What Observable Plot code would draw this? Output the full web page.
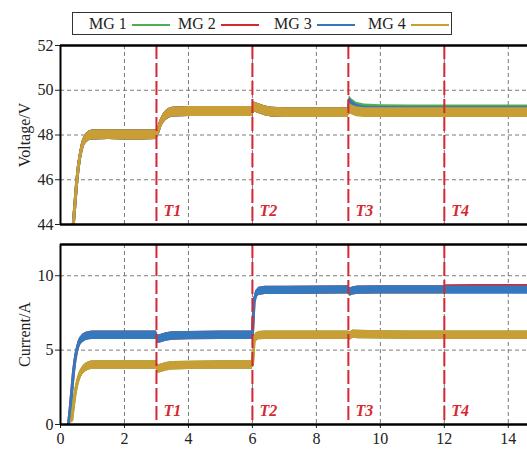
<!DOCTYPE html>
<html>
<head>
<meta charset="utf-8">
<script src="https://cdn.jsdelivr.net/npm/d3@7"></script>
<script src="https://cdn.jsdelivr.net/npm/@observablehq/plot@0.6"></script>
<style>
  html, body { margin: 0; padding: 0; background: #fff; }
  body { width: 527px; height: 452px; position: relative; overflow: hidden; font-family: "Liberation Serif", "DejaVu Serif", serif; }
  svg, svg text { font-family: "Liberation Serif", "DejaVu Serif", serif !important; }
  #legend { position: absolute; left: 72px; top: 12px; width: 380px; height: 23px; border: 1px solid #333; box-sizing: border-box; background: #fff; }
  .li { position: absolute; top: 0; height: 21px; line-height: 21px; font-size: 16px; color: #222; white-space: nowrap; }
  .sw { position: absolute; top: 11px; height: 2px; width: 38px; }
  #top { position: absolute; left: 0; top: 35px; }
  #bottom { position: absolute; left: 0; top: 236px; }
</style>
</head>
<body>
<div id="legend"></div>
<div id="top"></div>
<div id="bottom"></div>
<script>
// ---------- data ----------
const seriesNames = ["MG 1", "MG 2", "MG 3", "MG 4"];
const seriesColors = ["#4caf50", "#d62832", "#3478be", "#c99e34"];

// voltage panel: time (s) and centre of the ripple band (V)
const tV = [0.40, 0.45, 0.50, 0.55, 0.60, 0.65, 0.70, 0.80, 0.90, 1.00, 1.50, 2.00, 2.50, 3.00, 3.05, 3.10, 3.20, 3.30, 3.40, 3.50, 4.00, 5.00, 6.00, 6.05, 6.20, 6.40, 6.60, 7.00, 8.00, 9.00, 9.03, 9.10, 9.25, 9.50, 10.00, 11.00, 12.00, 13.00, 14.60];
const vMG1 = [44.0, 44.9, 45.8, 46.5, 47.0, 47.35, 47.6, 47.85, 47.97, 48.0, 48.02, 48.0, 48.0, 48.02, 48.15, 48.4, 48.7, 48.88, 48.97, 49.02, 49.05, 49.05, 49.05, 49.25, 49.18, 49.08, 49.02, 49.0, 49.0, 49.0, 49.55, 49.4, 49.24, 49.16, 49.13, 49.12, 49.12, 49.12, 49.12];
const vMG2 = [44.0, 44.9, 45.8, 46.5, 47.0, 47.35, 47.6, 47.85, 47.97, 48.0, 48.02, 48.0, 48.0, 48.02, 48.15, 48.4, 48.7, 48.88, 48.97, 49.02, 49.05, 49.05, 49.05, 49.25, 49.18, 49.08, 49.02, 49.0, 49.0, 49.0, 49.4, 49.25, 49.1, 49.04, 49.02, 49.02, 49.02, 49.02, 49.02];
const vMG3 = [44.0, 44.9, 45.8, 46.5, 47.0, 47.35, 47.6, 47.85, 47.97, 48.0, 48.02, 48.0, 48.0, 48.02, 48.15, 48.4, 48.7, 48.88, 48.97, 49.02, 49.05, 49.05, 49.05, 49.25, 49.18, 49.08, 49.02, 49.0, 49.0, 49.0, 49.48, 49.32, 49.15, 49.07, 49.05, 49.04, 49.04, 49.04, 49.04];
const vMG4 = [44.0, 44.9, 45.8, 46.5, 47.0, 47.35, 47.6, 47.85, 47.97, 48.0, 48.02, 48.0, 48.0, 48.02, 48.15, 48.4, 48.7, 48.88, 48.97, 49.02, 49.05, 49.05, 49.05, 49.25, 49.18, 49.08, 49.02, 49.0, 49.0, 49.0, 49.2, 49.12, 49.04, 49.0, 49.0, 49.0, 49.0, 49.0, 49.0];
const vRipple = 0.22;

// current panel: time (s) and centre of the ripple band (A)
const tI = [0.25, 0.30, 0.35, 0.40, 0.45, 0.50, 0.55, 0.60, 0.70, 0.80, 0.90, 1.00, 1.50, 2.00, 2.50, 3.00, 3.05, 3.15, 3.30, 3.50, 4.00, 5.00, 6.00, 6.05, 6.10, 6.20, 6.40, 7.00, 8.00, 9.00, 9.05, 9.15, 9.30, 10.00, 11.00, 12.00, 12.05, 13.00, 14.60];
const iMG1 = [null, null, 0.3, 1.2, 2.0, 2.6, 3.0, 3.3, 3.65, 3.85, 3.95, 4.0, 4.0, 4.0, 4.0, 4.0, 3.72, 3.78, 3.88, 3.95, 3.98, 4.0, 4.0, 5.6, 5.85, 5.97, 6.0, 6.0, 6.0, 6.0, 5.95, 6.08, 6.05, 6.02, 6.0, 6.0, 6.0, 6.0, 6.0];
const iMG2 = [0.0, 1.0, 2.2, 3.4, 4.3, 4.9, 5.3, 5.55, 5.8, 5.92, 5.97, 6.0, 6.0, 6.0, 6.0, 6.0, 5.72, 5.78, 5.88, 5.95, 5.98, 6.0, 6.0, 8.2, 8.7, 8.95, 9.02, 9.02, 9.03, 9.05, 8.9, 8.98, 9.03, 9.05, 9.05, 9.05, 9.12, 9.13, 9.13];
const iMG3 = [0.0, 1.0, 2.2, 3.4, 4.3, 4.9, 5.3, 5.55, 5.8, 5.92, 5.97, 6.0, 6.0, 6.0, 6.0, 6.0, 5.72, 5.78, 5.88, 5.95, 5.98, 6.0, 6.0, 8.2, 8.7, 8.95, 9.02, 9.02, 9.03, 9.05, 8.9, 8.98, 9.03, 9.05, 9.05, 9.05, 9.03, 9.03, 9.03];
const iMG4 = [null, null, 0.3, 1.2, 2.0, 2.6, 3.0, 3.3, 3.65, 3.85, 3.95, 4.0, 4.0, 4.0, 4.0, 4.0, 3.72, 3.78, 3.88, 3.95, 3.98, 4.0, 4.0, 5.6, 5.85, 5.97, 6.0, 6.0, 6.0, 6.0, 5.95, 6.08, 6.05, 6.02, 6.0, 6.0, 6.0, 6.0, 6.0];
const iRipple = 0.28;

const events = [3, 6, 9, 12];
const eventLabels = ["T1", "T2", "T3", "T4"];
const xTicks = [0, 2, 4, 6, 8, 10, 12, 14];
const vTicks = [44, 46, 48, 50, 52];
const iTicks = [0, 5, 10];
const xDomain = [0, 14.6];
const vDomain = [44, 52];
const iDomain = [0, 12.1];

// ---------- legend ----------
const legend = document.getElementById("legend");
const legendX = [16, 105, 201, 295];
seriesNames.forEach((n, k) => {
  const t = document.createElement("span");
  t.className = "li"; t.textContent = n; t.style.left = legendX[k] + "px";
  legend.appendChild(t);
  const s = document.createElement("span");
  s.className = "sw"; s.style.left = (legendX[k] + 43) + "px"; s.style.background = seriesColors[k];
  legend.appendChild(s);
});

// ---------- helpers ----------
function rows(t, vals, r) {
  const out = [];
  t.forEach((x, k) => { if (vals[k] != null) out.push({t: x, c: vals[k], lo: vals[k] - r, hi: vals[k] + r}); });
  return out;
}
const red = "#d62832";
const font = "font-family: 'Liberation Serif', 'DejaVu Serif', serif; font-size: 16px; color: #222; background: transparent; overflow: visible;";

function panel(t, series, ripple, yDomain, yTicks, yLabel, showX, height, mt, mb) {
  const marks = [
    Plot.ruleX(xTicks.filter(d => d > xDomain[0]), {stroke: "#7a7a7a", strokeWidth: 1, strokeDasharray: "4,3"}),
    Plot.ruleY(yTicks.filter(d => d > yDomain[0] && d < yDomain[1]), {stroke: "#7a7a7a", strokeWidth: 1, strokeDasharray: "4,3"})
  ];
  series.forEach((vals, k) => {
    const d = rows(t, vals, ripple);
    marks.push(Plot.areaY(d, {x: "t", y1: "lo", y2: "hi", fill: seriesColors[k], clip: true}));
    marks.push(Plot.line(d, {x: "t", y: "c", stroke: seriesColors[k], strokeWidth: 3, clip: true}));
  });
  marks.push(Plot.ruleX(events, {stroke: red, strokeWidth: 2, strokeDasharray: "14,4"}));
  marks.push(Plot.text(events, {x: d => d, y: () => yDomain[0], text: (d, i) => eventLabels[i], dx: 7, dy: -9, textAnchor: "start", lineAnchor: "bottom", fill: red, fontWeight: "bold", fontStyle: "italic", fontSize: 16}));
  marks.push(Plot.ruleY(yDomain, {stroke: "#000", strokeWidth: 2.5}));
  marks.push(Plot.ruleX([xDomain[0]], {stroke: "#000", strokeWidth: 2}));
  return Plot.plot({
    width: 527, height, marginLeft: 60, marginRight: 0, marginTop: mt, marginBottom: mb,
    style: font,
    x: {domain: xDomain, ticks: xTicks, tickSize: 4, tickPadding: 4, axis: showX ? "bottom" : null, label: null},
    y: {domain: yDomain, ticks: yTicks, tickSize: 5, tickPadding: 2, label: yLabel, labelAnchor: "center", labelOffset: 42, labelArrow: "none"},
    marks
  });
}

document.getElementById("top").appendChild(
  panel(tV, [vMG1, vMG2, vMG3, vMG4], vRipple, vDomain, vTicks, "Voltage/V", false, 201, 10, 12));
document.getElementById("bottom").appendChild(
  panel(tI, [iMG1, iMG2, iMG3, iMG4], iRipple, iDomain, iTicks, "Current/A", true, 216, 8, 28));
</script>
</body>
</html>
